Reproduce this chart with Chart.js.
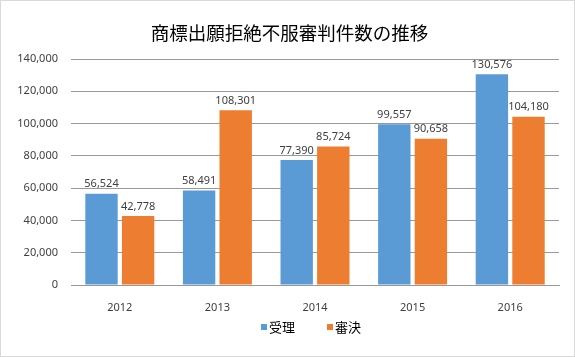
<!DOCTYPE html>
<html>
<head>
<meta charset="utf-8">
<script src="https://cdn.jsdelivr.net/npm/chart.js@4"></script>
<style>
html,body{margin:0;padding:0;background:#fff;}
#wrap{width:575px;height:357px;position:relative;}
</style>
</head>
<body>
<div id="wrap"><canvas id="c" width="575" height="357"></canvas></div>
<script>
const title = '商標出願拒絶不服審判件数の推移';
const categories = ['2012', '2013', '2014', '2015', '2016'];
const seriesNames = ['受理', '審決'];
const juri = [56524, 58491, 77390, 99557, 130576];
const shinketsu = [42778, 108301, 85724, 90658, 104180];
const yMax = 140000;
const yStep = 20000;

const colors = ['#5B9BD5', '#ED7D31'];
const numFont = '"Noto Sans", "Liberation Sans", sans-serif';
const cjkFont = '"Noto Sans CJK JP", "Noto Sans", sans-serif';

const bgBorder = {
  id: 'bgBorder',
  beforeDraw(chart) {
    const ctx = chart.ctx;
    ctx.save();
    ctx.fillStyle = '#ffffff';
    ctx.fillRect(0, 0, chart.width, chart.height);
    ctx.strokeStyle = '#d9d9d9';
    ctx.lineWidth = 1;
    ctx.strokeRect(0.5, 0.5, chart.width - 1, chart.height - 1);
    ctx.restore();
  }
};

const chartTitle = {
  id: 'chartTitle',
  afterDraw(chart) {
    const ctx = chart.ctx;
    ctx.save();
    ctx.font = '18.5px ' + cjkFont;
    ctx.fillStyle = '#000000';
    ctx.textAlign = 'center';
    ctx.textBaseline = 'middle';
    ctx.fillText(title, chart.width / 2 + 2, 33);
    ctx.restore();
  }
};

const dataLabels = {
  id: 'dataLabels',
  afterDatasetsDraw(chart) {
    const ctx = chart.ctx;
    ctx.save();
    ctx.font = '11px ' + numFont;
    ctx.fillStyle = '#404040';
    ctx.textAlign = 'center';
    ctx.textBaseline = 'bottom';
    chart.data.datasets.forEach((ds, i) => {
      const meta = chart.getDatasetMeta(i);
      meta.data.forEach((bar, j) => {
        ctx.fillText(ds.data[j].toLocaleString('en-US'), bar.x, bar.y - 4);
      });
    });
    ctx.restore();
  }
};

const bottomLegend = {
  id: 'bottomLegend',
  afterDraw(chart) {
    const ctx = chart.ctx;
    ctx.save();
    ctx.font = '13px ' + cjkFont;
    ctx.textBaseline = 'middle';
    ctx.textAlign = 'left';
    const y = 327;
    const box = 6, gap = 2, spacing = 66;
    const startX = 261;
    chart.data.datasets.forEach((ds, i) => {
      const x = startX + i * spacing;
      ctx.fillStyle = ds.backgroundColor;
      ctx.fillRect(x, y - box / 2, box, box);
      ctx.fillStyle = '#000000';
      ctx.fillText(ds.label, x + box + gap, y);
    });
    ctx.restore();
  }
};

new Chart(document.getElementById('c'), {
  type: 'bar',
  data: {
    labels: categories,
    datasets: [
      { label: seriesNames[0], data: juri, backgroundColor: colors[0] },
      { label: seriesNames[1], data: shinketsu, backgroundColor: colors[1] }
    ]
  },
  options: {
    responsive: false,
    animation: false,
    devicePixelRatio: 1,
    layout: { padding: { left: 0, right: 16, top: 59, bottom: 42 } },
    datasets: { bar: { categoryPercentage: 0.75, barPercentage: 0.885 } },
    plugins: {
      title: { display: false },
      legend: { display: false },
      tooltip: { enabled: false }
    },
    scales: {
      x: {
        afterFit(scale) { scale.height = 30; },
        grid: { display: false },
        border: { display: true, color: '#999999' },
        ticks: { color: '#404040', font: { family: numFont, size: 11 }, padding: 8 }
      },
      y: {
        min: 0,
        max: yMax,
        afterFit(scale) { scale.width = 71; },
        grid: { color: '#999999', drawTicks: false },
        border: { display: false },
        ticks: {
          stepSize: yStep,
          color: '#404040',
          font: { family: numFont, size: 11 },
          padding: 13,
          callback: v => v.toLocaleString('en-US')
        }
      }
    }
  },
  plugins: [bgBorder, chartTitle, dataLabels, bottomLegend]
});
</script>
</body>
</html>
